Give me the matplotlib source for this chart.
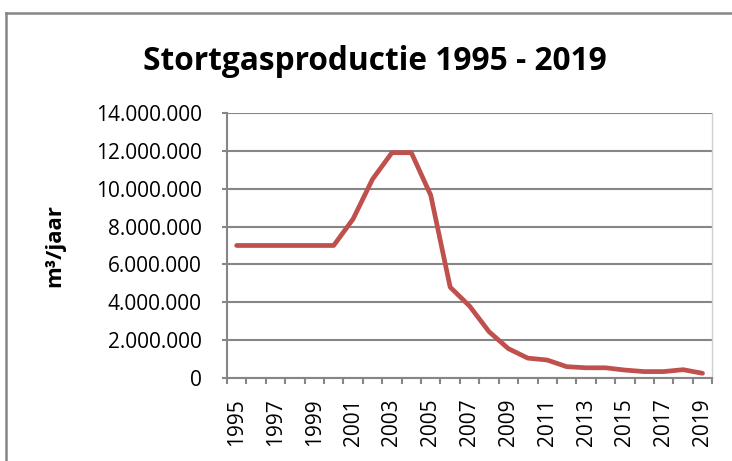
import matplotlib.pyplot as plt
from matplotlib.ticker import FuncFormatter, FixedLocator
from matplotlib.lines import Line2D

# data
years = list(range(1995, 2020))
productie = [7000000, 7000000, 7000000, 7000000, 7000000, 7000000,
             8400000, 10500000, 11900000, 11900000, 9650000, 4800000,
             3800000, 2450000, 1550000, 1050000, 950000, 600000,
             540000, 540000, 420000, 340000, 340000, 440000, 250000]
label_years = years[::2]

plt.rcParams['font.family'] = ['Open Sans', 'DejaVu Sans']

fig = plt.figure(figsize=(7.32, 4.61), dpi=100)
ax = fig.add_axes([0.310, 0.180, 0.663, 0.575])

ax.plot(years, productie, color='#C0504D', lw=3.4, solid_capstyle='round',
        solid_joinstyle='round', zorder=3)

ax.set_xlim(years[0] - 0.5, years[-1] + 0.5)
ax.set_ylim(0, 14000000)
ax.set_yticks(range(0, 14000001, 2000000))
ax.yaxis.set_major_formatter(FuncFormatter(lambda v, p: f"{int(v):,}".replace(',', '.')))
ax.grid(axis='y', color='#868686', lw=1.5, zorder=1)

ax.set_xticks(label_years)
ax.set_xticklabels([str(y) for y in label_years], rotation=90)
ax.xaxis.set_minor_locator(FixedLocator([y - 0.5 for y in years] + [years[-1] + 0.5]))
ax.tick_params(axis='x', which='major', length=0, pad=14.4, labelsize=15, colors='black')
ax.tick_params(axis='x', which='minor', length=4.3, width=1.5, color='#868686')
ax.tick_params(axis='y', length=3.6, width=1.5, color='#868686', labelsize=15,
               labelcolor='black', pad=14.4)

for side in ['left', 'bottom']:
    ax.spines[side].set_color('#868686')
    ax.spines[side].set_linewidth(1.5)
ax.spines['top'].set_visible(False)
ax.spines['right'].set_color('#d0d0d0')
ax.spines['right'].set_linewidth(1)

ax.set_ylabel('m³/jaar', fontsize=16, fontweight='bold')
ax.yaxis.set_label_coords(-0.333, 0.5)

fig.text(0.512, 0.866, 'Stortgasproductie 1995 - 2019', ha='center', va='center',
         fontsize=22.8, fontweight='bold')

# chart frame (top and left edge visible)
x0 = 6 / 732
y0 = 1 - 13 / 461
fig.add_artist(Line2D([x0, 1], [y0, y0], transform=fig.transFigure, color='#868686', lw=1.8))
fig.add_artist(Line2D([x0, x0], [0, y0], transform=fig.transFigure, color='#868686', lw=1.8))

fig.savefig('out.png', dpi=100)
